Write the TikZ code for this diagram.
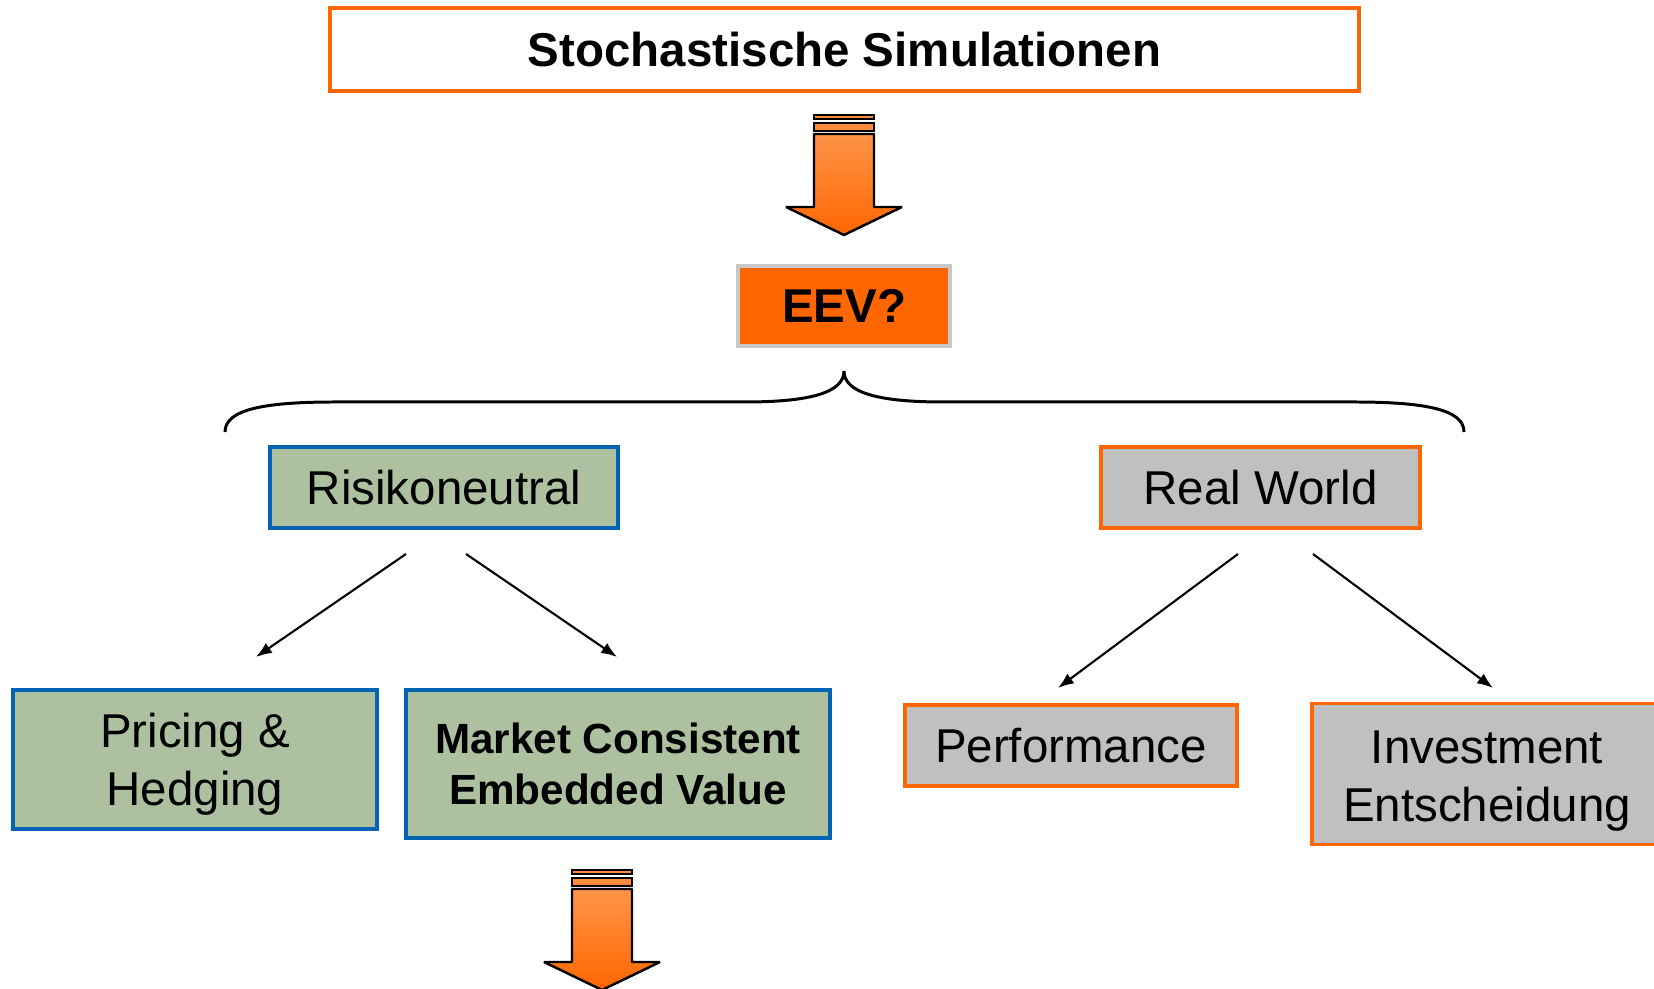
\documentclass[tikz,border=0pt]{standalone}
\usepackage{fontspec}
\setmainfont{Liberation Sans}
\usetikzlibrary{arrows.meta}

\definecolor{simorange}{HTML}{FF6600}
\definecolor{simlight}{HTML}{FF9448}
\definecolor{simblue}{HTML}{0563B5}
\definecolor{simgreen}{HTML}{ADC0A0}
\definecolor{simgray}{HTML}{C0C0C0}
\definecolor{simframe}{HTML}{C8C8C8}

\tikzset{
  simarrow/.pic = {
    \draw [line width = 0.7pt, fill = simlight!80!simorange] (-30, 0) rectangle (30, 4);
    \draw [line width = 0.7pt, fill = simlight!80!simorange] (-30, 8) rectangle (30, 16);
    \draw [line width = 0.7pt, line join = bevel, top color = simlight, bottom color = simorange]
      (-30, 19) -- (30, 19) -- (30, 92) -- (58, 92) -- (0, 120)
      -- (-58, 92) -- (-30, 92) -- cycle;
  }
}

\begin{document}
\begin{tikzpicture}[x = 0.01cm, y = -0.01cm,
                    every node/.style = {inner sep = 0, align = center,
                                         font = \fontsize{13.5}{16.5}\selectfont},
                    greenbox/.style = {draw = simblue, fill = simgreen, line width = 1.1pt},
                    graybox/.style = {draw = simorange, fill = simgray, line width = 1.1pt},
                    link/.style = {line width = 0.6pt, -{Latex[length = 4.5pt, width = 3.4pt]}}]
      \useasboundingbox (0, 0) rectangle (1654, 989);
      \clip (0, 0) rectangle (1654, 989);

      \node (title) [draw = simorange, line width = 1.1pt,
                     minimum width = 10.29cm, minimum height = 0.83cm]
            at (844.5, 49.5) {\bfseries Stochastische Simulationen};
      \pic at (844, 115) {simarrow};

      \node (eev) [draw = simframe, fill = simorange, line width = 1pt,
                   minimum width = 2.12cm, minimum height = 0.80cm]
            at (844, 306) {\bfseries EEV?};

      \draw [line width = 0.85pt]
            (225, 432) .. controls (225, 410) and (262, 402) .. (335, 402)
            -- (745, 402) .. controls (812, 402) and (844, 392) .. (844, 371)
            .. controls (844, 392) and (876, 402) .. (943, 402)
            -- (1354, 402) .. controls (1427, 402) and (1464, 410) .. (1464, 432);

      \node (rn) [greenbox, minimum width = 3.48cm, minimum height = 0.81cm]
            at (444, 487.5) {Risikoneutral};
      \node (rw) [graybox, minimum width = 3.19cm, minimum height = 0.81cm]
            at (1260.5, 487.5) {Real World};

      \node (ph) [greenbox, minimum width = 3.64cm, minimum height = 1.39cm]
            at (195, 759.5) {\rule{0pt}{12.6pt}Pricing \&\\Hedging};
      \node (mcev) [greenbox, minimum width = 4.24cm, minimum height = 1.48cm,
                    font = \fontsize{12}{14.5}\selectfont\bfseries]
            at (618, 764) {Market Consistent\\Embedded Value};
      \node (perf) [graybox, minimum width = 3.32cm, minimum height = 0.81cm]
            at (1071, 745.5) {Performance};
      \node (inv) [graybox, minimum width = 3.50cm, minimum height = 1.41cm]
            at (1487, 774) {\rule{0pt}{13.1pt}Investment\\Entscheidung};

      \coordinate (rn-a)    at (406, 554);
      \coordinate (rn-b)    at (466, 554);
      \coordinate (ph-in)   at (256, 657);
      \coordinate (mcev-in) at (617, 657);
      \coordinate (rw-a)    at (1238, 554);
      \coordinate (rw-b)    at (1313, 554);
      \coordinate (perf-in) at (1058, 688);
      \coordinate (inv-in)  at (1493, 688);
      \draw [link] (rn-a) -- (ph-in);
      \draw [link] (rn-b) -- (mcev-in);
      \draw [link] (rw-a) -- (perf-in);
      \draw [link] (rw-b) -- (inv-in);

      \pic at (602, 870) {simarrow};
    \end{tikzpicture}
\end{document}
